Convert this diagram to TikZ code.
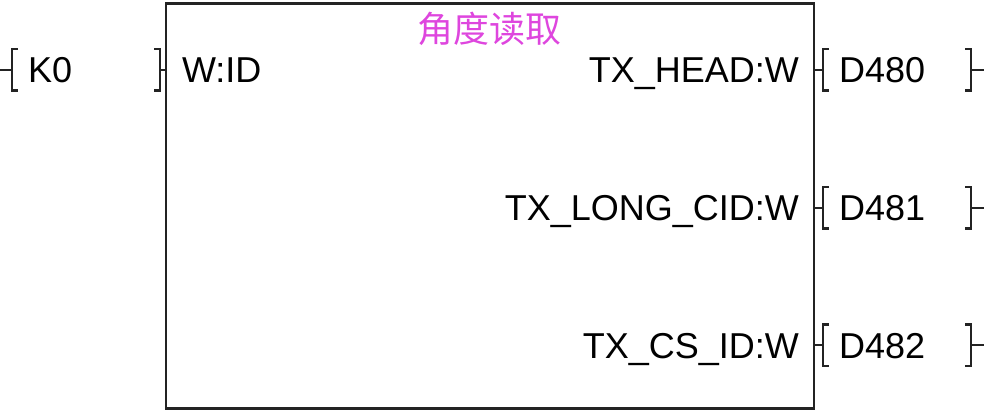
\documentclass[tikz,border=0pt]{standalone}
\usepackage{xcolor}
\usepackage{fontspec}
\setmainfont{Liberation Sans}
\newfontfamily\cjk{Noto Sans CJK SC}
\usepackage{tikz}
\usetikzlibrary{positioning}
\definecolor{titlepink}{RGB}{222,70,222}
\definecolor{wire}{RGB}{35,35,35}

\begin{document}
\begin{tikzpicture}[
        x=1pt, y=1pt, line width=2.2pt, draw=wire,
        every node/.style={font=\fontsize{36}{40}\selectfont, inner sep=0pt},
        block/.style={draw=wire, line width=2.2pt, minimum width=648pt, minimum height=405pt},
        operand/.style={minimum height=39pt, text width=116pt, inner xsep=15pt,
            align=left, text height=26pt, text depth=0pt},
        port/.style={anchor=base east},
        title/.style={font=\cjk\fontsize{36}{40}\selectfont, text=titlepink}]

    \useasboundingbox (0,0) rectangle (984,415);

    % function block
    \node[block] (fb) at (490,209) {};
    \draw (fb.north west) ++(0,3) coordinate (tl) -- (tl -| fb.north east);
    \node[title] (name) at (489,386) {角度读取};

    % input side
    \coordinate (in0) at (0,345);
    \node[operand, anchor=west] (k0) at (12,345) {K0};
    \node[port, anchor=base west] (wid) at (181,332) {W:ID};

    % output side
    \node[port] (head) at (800,332) {TX\_HEAD:W};
    \node[port] (long) at (800,194) {TX\_LONG\_CID:W};
    \node[port] (cs) at (800,57) {TX\_CS\_ID:W};
    \node[operand, anchor=west] (d480) at (fb.east |- 0,345) [xshift=8pt] {D480};
    \node[operand, anchor=west] (d481) at (fb.east |- 0,207) [xshift=8pt] {D481};
    \node[operand, anchor=west] (d482) at (fb.east |- 0,70) [xshift=8pt] {D482};
    \coordinate (out0) at (984,345);
    \coordinate (out1) at (984,207);
    \coordinate (out2) at (984,70);

    % operand brackets
    \draw (k0.north west) ++(6,0) -| (k0.south west) -- ++(6,0);
    \draw (k0.north east) ++(-6,0) -| (k0.south east) -- ++(-6,0);
    \draw (d480.north west) ++(6,0) -| (d480.south west) -- ++(6,0);
    \draw (d480.north east) ++(-6,0) -| (d480.south east) -- ++(-6,0);
    \draw (d481.north west) ++(6,0) -| (d481.south west) -- ++(6,0);
    \draw (d481.north east) ++(-6,0) -| (d481.south east) -- ++(-6,0);
    \draw (d482.north west) ++(6,0) -| (d482.south west) -- ++(6,0);
    \draw (d482.north east) ++(-6,0) -| (d482.south east) -- ++(-6,0);

    % wires
    \draw (in0) -- (k0.west);
    \draw (k0.east) -- (k0.east -| fb.west);
    \draw (d480.west -| fb.east) -- (d480.west);
    \draw (d481.west -| fb.east) -- (d481.west);
    \draw (d482.west -| fb.east) -- (d482.west);
    \draw (d480.east) -- (out0);
    \draw (d481.east) -- (out1);
    \draw (d482.east) -- (out2);
\end{tikzpicture}
\end{document}
